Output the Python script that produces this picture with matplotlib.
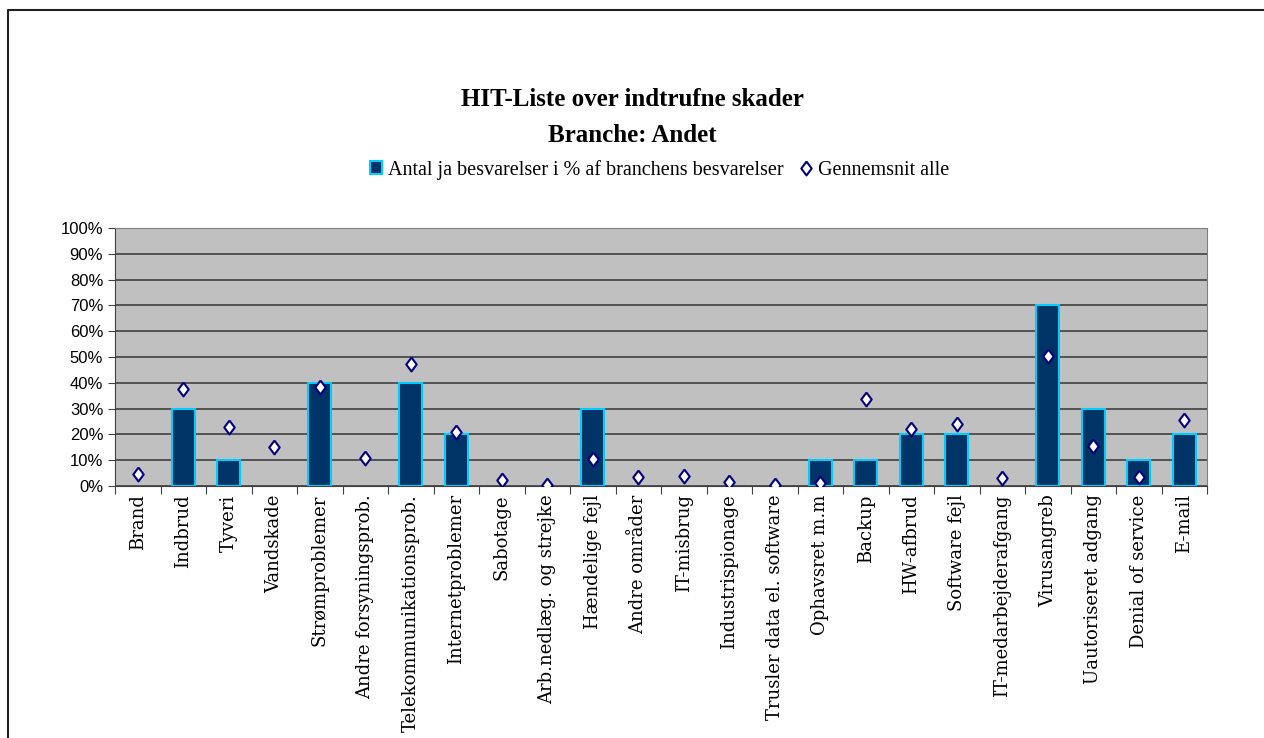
import numpy as np
import matplotlib.pyplot as plt
from matplotlib.lines import Line2D
from matplotlib.patches import Rectangle
from matplotlib.ticker import FixedLocator, PercentFormatter

# Kategorier og værdier
kategorier = ['Brand', 'Indbrud', 'Tyveri', 'Vandskade', 'Strømproblemer',
              'Andre forsyningsprob.', 'Telekommunikationsprob.', 'Internetproblemer',
              'Sabotage', 'Arb.nedlæg. og strejke', 'Hændelige fejl', 'Andre områder',
              'IT-misbrug', 'Industrispionage', 'Trusler data el. software',
              'Ophavsret m.m', 'Backup', 'HW-afbrud', 'Software fejl',
              'IT-medarbejderafgang', 'Virusangreb', 'Uautoriseret adgang',
              'Denial of service', 'E-mail']
branche = [0, 30, 10, 0, 40, 0, 40, 20, 0, 0, 30, 0,
           0, 0, 0, 10, 10, 20, 20, 0, 70, 30, 10, 20]
gennemsnit = [4.6, 37.6, 22.9, 15.1, 38.4, 10.9, 47.3, 20.9, 2.3, 0.4, 10.5, 3.5,
              3.9, 1.6, 0.2, 1.2, 33.7, 22.0, 24.0, 3.0, 50.4, 15.5, 3.6, 25.6]

serif = 'Liberation Serif'
sans = 'Liberation Sans'

# lidt bredere ruder end matplotlibs 'd'
rude = [(0, 1), (0.75, 0), (0, -1), (-0.75, 0), (0, 1)]
rude_stil = dict(linestyle='none', marker=rude, markersize=10, markerfacecolor='white',
                 markeredgecolor='#000080', markeredgewidth=1.5)

fig = plt.figure(figsize=(12.64, 7.38), dpi=100)
# ramme kun i top og venstre side (som i originalen)
fig.add_artist(Line2D([0.006, 0.006, 1.0], [0.0, 0.987, 0.987], transform=fig.transFigure,
                      color='#202020', linewidth=1.5))

ax = fig.add_axes([0.091, 0.3415, 0.864, 0.3495])
x = np.arange(len(kategorier))

ax.set_facecolor('#C0C0C0')
# søjler med værdien 0 skal ikke vise en kant
kanter = ['#00CCFF' if v > 0 else 'none' for v in branche]
ax.bar(x, branche, width=0.5, color='#003366', edgecolor=kanter, linewidth=1.5, zorder=3)
ax.plot(x, gennemsnit, zorder=4, **rude_stil)

ax.set_xlim(-0.5, len(kategorier) - 0.5)
ax.set_ylim(0, 100)
ax.set_yticks(np.arange(0, 101, 10))
ax.yaxis.set_major_formatter(PercentFormatter(decimals=0))
ax.grid(axis='y', color='#404040', linewidth=1.2, zorder=1)

ax.xaxis.set_major_locator(FixedLocator(np.arange(-0.5, len(kategorier), 1)))
ax.xaxis.set_major_formatter(plt.NullFormatter())
ax.xaxis.set_minor_locator(FixedLocator(x))
ax.set_xticklabels(kategorier, minor=True, rotation=90, fontfamily='DejaVu Serif',
                   fontsize=13, va='top')
ax.tick_params(axis='x', which='minor', length=0, pad=6)
ax.tick_params(axis='x', which='major', length=6, color='#404040')
ax.tick_params(axis='y', length=5, color='#404040', labelsize=12)
for lbl in ax.get_yticklabels():
    lbl.set_fontfamily(sans)

for side in ['top', 'right']:
    ax.spines[side].set_color('#808080')
for side in ['left', 'bottom']:
    ax.spines[side].set_color('#404040')

fig.text(0.5, 0.8645, 'HIT-Liste over indtrufne skader', ha='center', va='center',
         fontfamily=serif, fontweight='bold', fontsize=18)
fig.text(0.5, 0.817, 'Branche: Andet', ha='center', va='center',
         fontfamily=serif, fontweight='bold', fontsize=18)

h_bar = Rectangle((0, 0), 1, 1, facecolor='#003366', edgecolor='#00CCFF', linewidth=1.5)
h_avg = Line2D([], [], **rude_stil)
fig.legend([h_bar, h_avg],
           ['Antal ja besvarelser i % af branchens besvarelser', 'Gennemsnit alle'],
           loc='center', bbox_to_anchor=(0.522, 0.77), ncol=2, frameon=False,
           prop={'family': serif, 'size': 14.5}, handlelength=0.6, handleheight=0.6,
           handletextpad=0.3, columnspacing=0.8)

fig.savefig('out.png', dpi=100)
